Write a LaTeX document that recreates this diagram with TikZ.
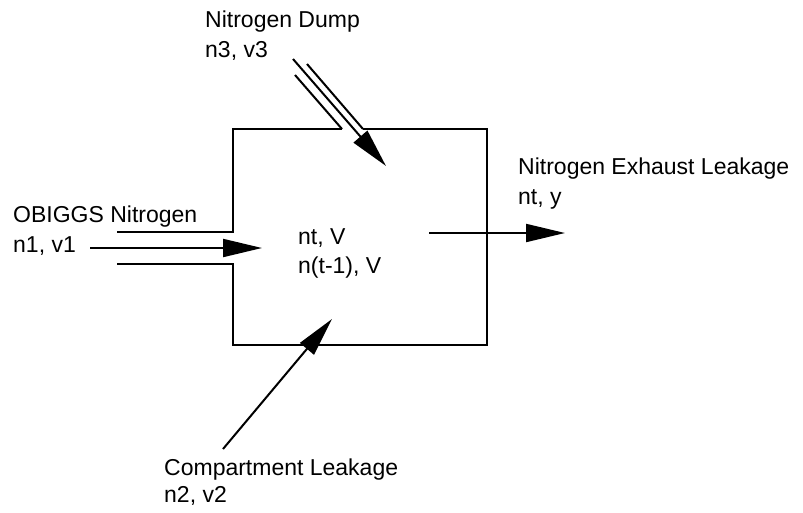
\documentclass[tikz,border=0pt]{standalone}
\usepackage{fontspec}
\setmainfont{Liberation Sans}
\usetikzlibrary{arrows.meta}

\begin{document}
\begin{tikzpicture}[
  x=1pt, y=-1pt,
  font=\fontsize{23}{28}\selectfont,
  >={Triangle[length=39pt,width=18pt]},
  wall/.style={line width=2pt},
  flow/.style={line width=2pt, ->},
  lbl/.style={anchor=base west, inner sep=0pt},
]
  \useasboundingbox[fill=white] (0,0) rectangle (803,512);

  % Tank with openings
  \draw[wall] (117,232) -- (233,232) -- (233,129) -- (342,129);
  \draw[wall] (363,129) -- (487,129) -- (487,345) -- (233,345) -- (233,264) -- (117,264);

  % Nitrogen dump channel
  \draw[wall] (295,75) -- (342,129);
  \draw[wall] (307,64) -- (363,129);

  % Labels
  \node[lbl] (dump) at (205,27) {Nitrogen Dump};
  \node[lbl] (dumpvars) at (205,57) {n3, v3};
  \node[lbl] (obiggs) at (13,222) {OBIGGS Nitrogen};
  \node[lbl] (obiggsvars) at (13,252) {n1, v1};
  \node[lbl] (tanknow) at (298,244) {nt, V};
  \node[lbl] (tankold) at (298,273) {n(t-1), V};
  \node[lbl] (exhaust) at (518,174) {Nitrogen Exhaust Leakage};
  \node[lbl] (exhaustvars) at (518,204) {nt, y};
  \node[lbl] (leak) at (164,475) {Compartment Leakage};
  \node[lbl] (leakvars) at (164,502) {n2, v2};

  % Flow ends
  \coordinate (dumpS) at (293,59);
  \coordinate (dumpT) at (386,166);
  \coordinate (inS) at (90,248);
  \coordinate (inT) at (262,248);
  \coordinate (outS) at (429,233);
  \coordinate (outT) at (565,233);
  \coordinate (leakS) at (223,449);
  \coordinate (leakT) at (332,319);

  % Flows
  \foreach \a/\b in {dumpS/dumpT, inS/inT, outS/outT, leakS/leakT}
    \draw[flow] (\a) -- (\b);
\end{tikzpicture}
\end{document}
